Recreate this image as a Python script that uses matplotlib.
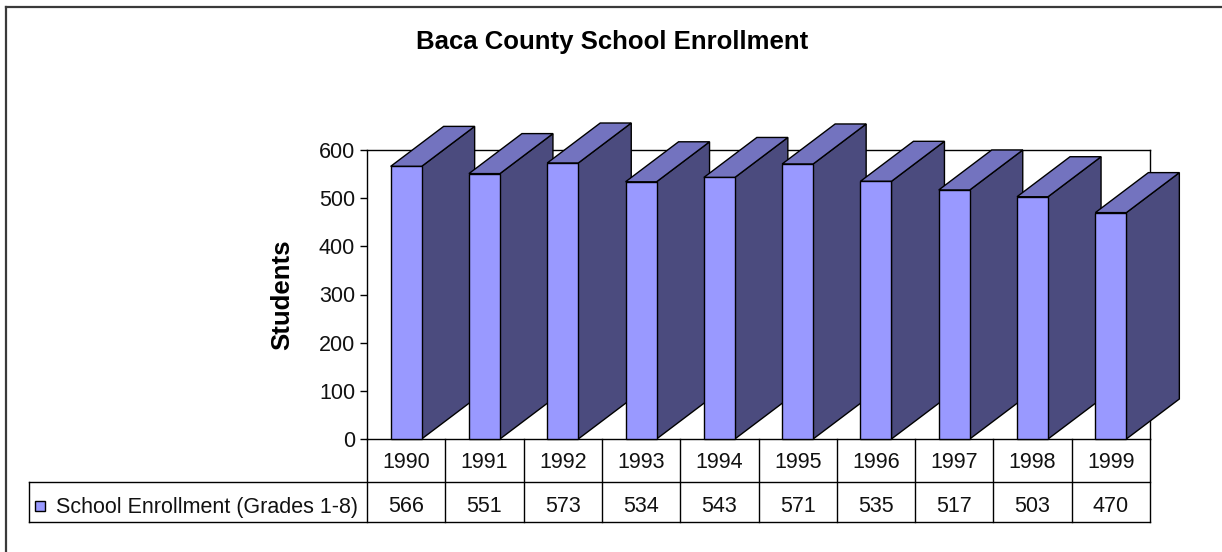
import matplotlib
matplotlib.use("Agg")
import matplotlib.pyplot as plt
from matplotlib.patches import Polygon, Rectangle
from matplotlib.lines import Line2D

plt.rcParams["font.family"] = ["Liberation Sans", "DejaVu Sans"]

# data
years = [1990, 1991, 1992, 1993, 1994, 1995, 1996, 1997, 1998, 1999]
enrollment = [566, 551, 573, 534, 543, 571, 535, 517, 503, 470]
series_label = "School Enrollment (Grades 1-8)"
title = "Baca County School Enrollment"
y_label = "Students"
y_ticks = [0, 100, 200, 300, 400, 500, 600]

FRONT = "#9999ff"
SIDE = "#4b4b7e"
TOP = "#7373bf"

W, H = 1222, 552
fig = plt.figure(figsize=(W / 100, H / 100), dpi=100)


def fx(px):
    return px / W


def fy(py):
    return 1 - py / H


# plot area in pixels
AX_L, AX_R, AX_T, AX_B = 367, 1150, 150, 439
TAB_B = 522
n = len(years)

ax = fig.add_axes([fx(AX_L), fy(AX_B), (AX_R - AX_L) / W, (AX_B - AX_T) / H])
ax.set_xlim(0, n)
ax.set_ylim(0, 600)
ax.set_xticks([])
ax.set_yticks(y_ticks)
ax.tick_params(axis="y", length=5, width=1, pad=3.6, labelsize=15.5,
               direction="out", labelcolor="#111111")
for s in ax.spines.values():
    s.set_linewidth(1)
    s.set_color("black")

# 3D depth: convert pixel offsets into data units
px_cat = (AX_R - AX_L) / n
px_unit = (AX_B - AX_T) / 600
bar_w = 31 / px_cat
dx = 53 / px_cat
dy = 40 / px_unit

for i, v in enumerate(enrollment):
    x0 = i + 0.5 - bar_w / 2
    x1 = x0 + bar_w
    front = [(x0, 0), (x1, 0), (x1, v), (x0, v)]
    side = [(x1, 0), (x1 + dx, dy), (x1 + dx, v + dy), (x1, v)]
    top = [(x0, v), (x1, v), (x1 + dx, v + dy), (x0 + dx, v + dy)]
    for pts, c in ((side, SIDE), (top, TOP), (front, FRONT)):
        ax.add_patch(Polygon(pts, closed=True, fc=c, ec="black", lw=1,
                             zorder=3 + i, clip_on=False, joinstyle="miter"))

# data table below the plot
tax = fig.add_axes([fx(AX_L), fy(TAB_B), (AX_R - AX_L) / W, (TAB_B - AX_B) / H])
tax.set_xlim(0, n)
tax.set_ylim(0, TAB_B - AX_B)
tax.axis("off")
row_mid = TAB_B - 482
leg_left = (29 - AX_L) / px_cat
lk = dict(color="black", lw=1, clip_on=False)
tax.plot([leg_left, n], [row_mid, row_mid], **lk)
tax.plot([leg_left, n], [0, 0], **lk)
tax.plot([leg_left, leg_left], [0, row_mid], **lk)
for k in range(n + 1):
    tax.plot([k, k], [0, TAB_B - AX_B], **lk)
tk = dict(ha="center", va="baseline", fontsize=15.5, color="#111111")
for i, (yr, v) in enumerate(zip(years, enrollment)):
    tax.text(i + 0.5, TAB_B - 468, str(yr), **tk)
    tax.text(i + 0.5, TAB_B - 512.5, str(v), **tk)
tax.add_patch(Rectangle(((35 - AX_L) / px_cat, TAB_B - 511), 10 / px_cat, 10,
                        fc=FRONT, ec="black", lw=1, clip_on=False))
tax.text((56 - AX_L) / px_cat, TAB_B - 512.5, series_label, ha="left",
         va="baseline", fontsize=15.5, color="#111111")

fig.text(fx(612), fy(49), title, ha="center", va="baseline", fontsize=18.5,
         fontweight="bold")
fig.text(fx(282), fy(295), y_label, ha="center", va="center", rotation=90,
         fontsize=18.5, fontweight="bold")

# outer border (top and left edges visible)
fig.add_artist(Line2D([fx(6), 1], [fy(7), fy(7)], color="#3a3a3a", lw=1.6))
fig.add_artist(Line2D([fx(6), fx(6)], [fy(7), 0], color="#3a3a3a", lw=1.6))

fig.savefig("out.png", dpi=100)
